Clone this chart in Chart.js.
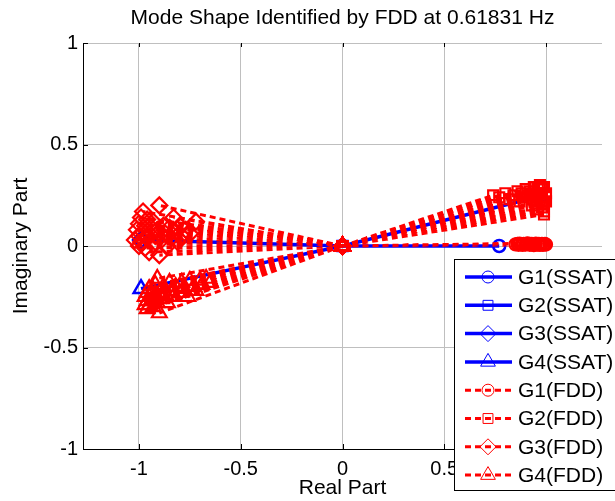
<!DOCTYPE html>
<html>
<head>
<meta charset="utf-8">
<script src="https://cdn.jsdelivr.net/npm/chart.js@4/dist/chart.umd.min.js"></script>
<style>
  body { margin: 0; background: #fff; }
</style>
</head>
<body>
<canvas id="modeChart" width="615" height="501"></canvas>
<script>
// Axis ticks
const xTicks = [-1, -0.5, 0, 0.5, 1];
const xTickLabels = ['-1', '-0.5', '0', '0.5', '1'];
const yTicks = [-1, -0.5, 0, 0.5, 1];
const yTickLabels = ['-1', '-0.5', '0', '0.5', '1'];

// SSAT mode shape (one spoke per group)
const g1SsatRe = [0.77];
const g1SsatIm = [0.0];
const g2SsatRe = [0.97];
const g2SsatIm = [0.245];
const g3SsatRe = [-0.99];
const g3SsatIm = [0.03];
const g4SsatRe = [-0.99];
const g4SsatIm = [-0.21];

// FDD mode shape (one spoke per channel)
const g1FddRe = [0.85, 0.86, 0.865, 0.87, 0.88, 0.885, 0.89, 0.90, 0.905, 0.91, 0.92, 0.925, 0.93, 0.94, 0.945, 0.95, 0.96, 0.965, 0.97, 0.975, 0.98, 0.985, 0.99, 0.995, 1.0];
const g1FddIm = [0.008, 0.01, 0.006, 0.012, 0.009, 0.005, 0.011, 0.007, 0.01, 0.013, 0.006, 0.009, 0.011, 0.004, 0.008, 0.012, 0.007, 0.01, 0.005, 0.009, 0.011, 0.006, 0.008, 0.01, 0.007];

const g2FddRe = [0.74, 0.77, 0.80, 0.82, 0.84, 0.86, 0.87, 0.88, 0.89, 0.90, 0.91, 0.92, 0.93, 0.94, 0.95, 0.95, 0.96, 0.96, 0.97, 0.97, 0.97, 0.98, 0.98, 0.98, 0.99, 0.99, 0.99, 1.0, 1.0, 0.99, 0.96, 0.93];
const g2FddIm = [0.25, 0.24, 0.26, 0.23, 0.25, 0.27, 0.22, 0.26, 0.24, 0.28, 0.25, 0.27, 0.23, 0.29, 0.26, 0.21, 0.28, 0.24, 0.30, 0.22, 0.26, 0.28, 0.19, 0.24, 0.29, 0.21, 0.17, 0.26, 0.22, 0.155, 0.18, 0.20];

const g3FddRe = [-1.02, -1.01, -1.0, -1.0, -1.0, -0.99, -0.99, -0.98, -0.98, -0.97, -0.97, -0.96, -0.96, -0.95, -0.95, -0.94, -0.93, -0.93, -0.92, -0.91, -0.90, -0.90, -0.89, -0.88, -0.87, -0.86, -0.85, -0.84, -0.83, -0.82, -0.81, -0.80, -0.79, -0.77, -0.75, -0.72];
const g3FddIm = [0.03, 0.08, 0.0, 0.05, 0.11, 0.02, 0.14, 0.07, 0.17, -0.01, 0.10, 0.04, 0.13, 0.06, -0.03, 0.09, 0.01, 0.12, 0.05, 0.08, 0.20, -0.045, 0.03, 0.10, 0.06, 0.0, 0.09, 0.04, 0.14, 0.07, 0.02, 0.10, 0.05, 0.08, 0.06, 0.12];

const g4FddRe = [-0.97, -0.97, -0.96, -0.96, -0.96, -0.95, -0.95, -0.94, -0.94, -0.93, -0.93, -0.92, -0.92, -0.91, -0.91, -0.90, -0.90, -0.89, -0.88, -0.87, -0.86, -0.85, -0.84, -0.83, -0.82, -0.80, -0.79, -0.78, -0.76, -0.75, -0.73, -0.72, -0.70, -0.69, -0.67, -0.65];
const g4FddIm = [-0.25, -0.29, -0.23, -0.31, -0.27, -0.21, -0.29, -0.24, -0.27, -0.22, -0.30, -0.25, -0.19, -0.28, -0.16, -0.33, -0.23, -0.26, -0.20, -0.24, -0.28, -0.18, -0.22, -0.25, -0.20, -0.23, -0.18, -0.21, -0.25, -0.17, -0.20, -0.22, -0.17, -0.19, -0.16, -0.18];

const titleText = 'Mode Shape Identified by FDD at 0.61831 Hz';
const blue = '#0000FF';
const red = '#FF0000';
const gridGray = '#BFBFBF';
const markerSize = { circle: 6, rect: 7, rectRot: 8, triangle: 8.5 };
const fontFamily = "'Liberation Sans', Arial, sans-serif";

Chart.defaults.font.family = fontFamily;
Chart.defaults.color = '#000';

// each component is drawn as a line from the origin to its point
function spokes(re, im) {
    const pts = [];
    re.forEach((r, i) => {
        pts.push({ x: 0, y: 0 }, { x: r, y: im[i] }, { x: null, y: null });
    });
    return pts;
}

function ssat(label, re, im, style) {
    return {
        label: label,
        data: spokes(re, im),
        showLine: true,
        borderColor: blue,
        borderWidth: 3.5,
        pointStyle: style,
        pointRadius: markerSize[style],
        pointBorderColor: blue,
        pointBorderWidth: 2.5,
        pointBackgroundColor: 'rgba(0,0,0,0)',
        order: 1
    };
}

function fdd(label, re, im, style) {
    return {
        label: label,
        data: spokes(re, im),
        showLine: true,
        borderColor: red,
        borderWidth: 3,
        borderDash: [6, 4],
        pointStyle: style,
        pointRadius: markerSize[style],
        pointBorderColor: red,
        pointBorderWidth: 2.2,
        pointBackgroundColor: 'rgba(0,0,0,0)',
        order: 0
    };
}

// title centred over the axes, MATLAB style
const axesTitle = {
    id: 'axesTitle',
    afterDraw(chart) {
        const { ctx, chartArea: a } = chart;
        ctx.save();
        ctx.fillStyle = '#000';
        ctx.font = '21px ' + fontFamily;
        ctx.textAlign = 'center';
        ctx.textBaseline = 'middle';
        ctx.fillText(titleText, (a.left + a.right) / 2, 18);
        ctx.restore();
    }
};

// inward ticks
const axisTicks = {
    id: 'axisTicks',
    afterDraw(chart) {
        const { ctx, chartArea: a, scales } = chart;
        ctx.save();
        ctx.strokeStyle = '#000';
        ctx.lineWidth = 1;
        ctx.beginPath();
        xTicks.forEach(v => {
            const px = Math.round(scales.x.getPixelForValue(v)) + 0.5;
            ctx.moveTo(px, a.bottom); ctx.lineTo(px, a.bottom - 5);
            ctx.moveTo(px, a.top); ctx.lineTo(px, a.top + 4);
        });
        yTicks.forEach(v => {
            const py = Math.round(scales.y.getPixelForValue(v)) + 0.5;
            ctx.moveTo(a.left, py); ctx.lineTo(a.left + 5, py);
        });
        ctx.stroke();
        ctx.restore();
    }
};

// legend box in the lower right, running off the figure edge
const legendBox = {
    id: 'legendBox',
    afterDraw(chart) {
        const ctx = chart.ctx;
        ctx.save();
        ctx.fillStyle = '#fff';
        ctx.fillRect(454.5, 259.5, 175, 231);
        ctx.strokeStyle = '#000';
        ctx.lineWidth = 1;
        ctx.strokeRect(454.5, 259.5, 175, 231);
        chart.data.datasets.forEach((ds, i) => {
            const y = 277 + i * 28.3;
            ctx.save();
            ctx.strokeStyle = ds.borderColor;
            ctx.lineWidth = ds.borderWidth;
            ctx.setLineDash(ds.borderDash || []);
            ctx.beginPath();
            ctx.moveTo(465, y);
            ctx.lineTo(512, y);
            ctx.stroke();
            ctx.restore();
            ctx.save();
            ctx.strokeStyle = ds.pointBorderColor;
            ctx.fillStyle = ds.pointBackgroundColor;
            Chart.helpers.drawPoint(ctx, {
                pointStyle: ds.pointStyle,
                radius: ds.pointRadius,
                borderWidth: ds.pointBorderWidth,
                rotation: 0
            }, 488, y);
            ctx.restore();
            ctx.fillStyle = '#000';
            ctx.font = '21px ' + fontFamily;
            ctx.textAlign = 'left';
            ctx.textBaseline = 'middle';
            ctx.fillText(ds.label, 518, y + 1);
        });
        ctx.restore();
    }
};

new Chart(document.getElementById('modeChart'), {
    type: 'scatter',
    data: {
        datasets: [
            ssat('G1(SSAT)', g1SsatRe, g1SsatIm, 'circle'),
            ssat('G2(SSAT)', g2SsatRe, g2SsatIm, 'rect'),
            ssat('G3(SSAT)', g3SsatRe, g3SsatIm, 'rectRot'),
            ssat('G4(SSAT)', g4SsatRe, g4SsatIm, 'triangle'),
            fdd('G1(FDD)', g1FddRe, g1FddIm, 'circle'),
            fdd('G2(FDD)', g2FddRe, g2FddIm, 'rect'),
            fdd('G3(FDD)', g3FddRe, g3FddIm, 'rectRot'),
            fdd('G4(FDD)', g4FddRe, g4FddIm, 'triangle')
        ]
    },
    options: {
        responsive: false,
        animation: false,
        layout: { padding: { left: 0, right: 13, top: 43, bottom: 0 } },
        plugins: {
            legend: { display: false },
            tooltip: { enabled: false },
            title: { display: false }
        },
        scales: {
            x: {
                type: 'linear',
                min: -1.275,
                max: 1.275,
                afterBuildTicks: s => { s.ticks = xTicks.map(v => ({ value: v })); },
                afterFit: s => { s.height = 52; },
                grid: { color: gridGray, drawTicks: false },
                border: { color: '#000' },
                ticks: {
                    font: { size: 20 },
                    padding: 8,
                    maxRotation: 0,
                    callback: v => xTickLabels[xTicks.indexOf(v)]
                },
                title: { display: true, text: 'Real Part', font: { size: 21 }, padding: { top: 0, bottom: 0 } }
            },
            y: {
                type: 'linear',
                min: -1,
                max: 1,
                afterBuildTicks: s => { s.ticks = yTicks.map(v => ({ value: v })); },
                afterFit: s => { s.width = 83; },
                grid: { color: gridGray, drawTicks: false },
                border: { color: '#000' },
                ticks: {
                    font: { size: 20 },
                    padding: 5,
                    callback: v => yTickLabels[yTicks.indexOf(v)]
                },
                title: { display: true, text: 'Imaginary Part', font: { size: 21 }, padding: { top: 9, bottom: 0 } }
            }
        }
    },
    plugins: [axisTicks, axesTitle, legendBox]
});
</script>
</body>
</html>
